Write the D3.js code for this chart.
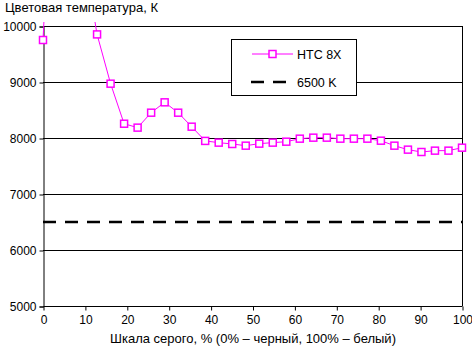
<!DOCTYPE html>
<html><head><meta charset="utf-8">
<script src="https://cdn.jsdelivr.net/npm/d3@7"></script>
<style>body{margin:0;background:#fff}svg{display:block}text{font-family:Arial,"Liberation Sans",sans-serif;fill:#000}</style>
</head><body><svg id="c" width="472" height="349"></svg>
<script>
const xValues = d3.range(32).map(i => i * 100 / 31);
const htc8x = [9750, 14500, 12600, 11300, 9850, 8970, 8255, 8185, 8452, 8637, 8452, 8202, 7948, 7917, 7893, 7863, 7899, 7917, 7934, 7988, 8006, 8006, 7988, 7988, 7988, 7952, 7863, 7792, 7750, 7774, 7774, 7827];
const reference = 6500;
const xTicks = [0, 10, 20, 30, 40, 50, 60, 70, 80, 90, 100];
const yTicks = [5000, 6000, 7000, 8000, 9000, 10000];
const seriesNames = ["HTC 8X", "6500 K"];
const title = "Цветовая температура, К";
const xTitle = "Шкала серого, % (0% – черный, 100% – белый)";

const svg = d3.select("#c");
const L = 43, R = 462, T = 26, B = 306;
const x = d3.scaleLinear().domain([0, 100]).range([L, R]);
const y = d3.scaleLinear().domain([5000, 10000]).range([B, T]);

// gridlines
svg.append("g").selectAll("line").data(yTicks.filter(v => v > 5000)).join("line")
  .attr("x1", L).attr("x2", R).attr("y1", d => y(d) + 0.5).attr("y2", d => y(d) + 0.5)
  .attr("stroke", "#000").attr("stroke-width", 1);
// right border
svg.append("line").attr("x1", R + 0.5).attr("x2", R + 0.5).attr("y1", T).attr("y2", B).attr("stroke", "#000");

// axes
const yAxis = svg.append("g").attr("transform", `translate(${L + 0.5},0.5)`)
  .call(d3.axisLeft(y).tickValues(yTicks).tickSize(4).tickPadding(3).tickFormat(d3.format("d")));
const xAxis = svg.append("g").attr("transform", `translate(0.5,${B + 0.5})`)
  .call(d3.axisBottom(x).tickValues(xTicks).tickSize(4).tickPadding(5).tickFormat(d3.format("d")));
[yAxis, xAxis].forEach(a => {
  a.select(".domain").attr("stroke", "#000");
  a.selectAll(".tick line").attr("stroke", "#000");
  a.selectAll("text").attr("font-size", 12).attr("font-family", "Arial, 'Liberation Sans', sans-serif").attr("fill", "#000");
});
xAxis.select(".domain").attr("d", `M${L},0H${R}`);

// reference line
svg.append("line").attr("x1", L).attr("x2", R).attr("y1", y(reference)).attr("y2", y(reference))
  .attr("stroke", "#000").attr("stroke-width", 2.5).attr("stroke-dasharray", "13,9");

// series
svg.append("defs").append("clipPath").attr("id", "clip").append("rect")
  .attr("x", L - 6).attr("y", T - 4).attr("width", R - L + 12).attr("height", B - T + 10);
const data = xValues.map((v, i) => ({x: v, y: htc8x[i]}));
const g = svg.append("g").attr("clip-path", "url(#clip)");
g.append("path").datum(data)
  .attr("d", d3.line().x(d => x(d.x)).y(d => y(d.y)))
  .attr("fill", "none").attr("stroke", "#ff00ff").attr("stroke-width", 1);
g.selectAll("rect.m").data(data).join("rect").attr("class", "m")
  .attr("x", d => x(d.x) - 3.5).attr("y", d => y(d.y) - 3.5).attr("width", 7).attr("height", 7)
  .attr("fill", "#fff").attr("stroke", "#ff00ff").attr("stroke-width", 1.5);

// titles
svg.append("text").attr("x", 5).attr("y", 12).attr("font-size", 13).text(title);
svg.append("text").attr("x", 253).attr("y", 343).attr("text-anchor", "middle").attr("font-size", 13).text(xTitle);

// legend
const lg = svg.append("g");
lg.append("rect").attr("x", 231.5).attr("y", 39.5).attr("width", 125).attr("height", 56)
  .attr("fill", "#fff").attr("stroke", "#000").attr("stroke-width", 1);
lg.append("line").attr("x1", 252).attr("x2", 293).attr("y1", 54).attr("y2", 54).attr("stroke", "#ff00ff");
lg.append("rect").attr("x", 269).attr("y", 50.5).attr("width", 7).attr("height", 7)
  .attr("fill", "#fff").attr("stroke", "#ff00ff").attr("stroke-width", 1.5);
lg.append("line").attr("x1", 251).attr("x2", 287).attr("y1", 82).attr("y2", 82)
  .attr("stroke", "#000").attr("stroke-width", 2.5).attr("stroke-dasharray", "13,9");
lg.selectAll("text.l").data(seriesNames).join("text").attr("class", "l")
  .attr("x", 297).attr("y", (d, i) => 58.5 + i * 28).attr("font-size", 12.5).text(d => d);
</script></body></html>
